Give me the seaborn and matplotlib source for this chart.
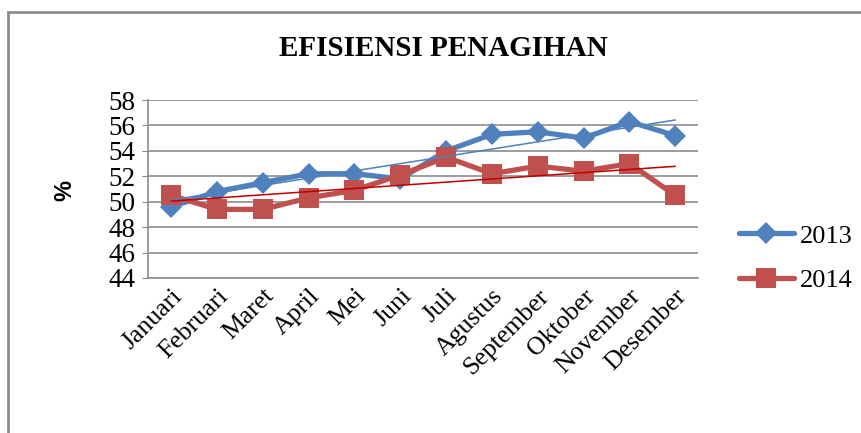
import matplotlib.pyplot as plt
import numpy as np
import pandas as pd
import seaborn as sns
from matplotlib.patches import Rectangle

months = ["Januari", "Februari", "Maret", "April", "Mei", "Juni", "Juli",
          "Agustus", "September", "Oktober", "November", "Desember"]
eff_2013 = [49.6, 50.8, 51.5, 52.2, 52.2, 51.8, 54.0, 55.3, 55.5, 55.0, 56.3, 55.2]
eff_2014 = [50.5, 49.4, 49.4, 50.3, 50.9, 52.1, 53.5, 52.2, 52.8, 52.4, 53.0, 50.5]
years = ["2013", "2014"]

df = pd.DataFrame({
    "idx": list(range(len(months))) * 2,
    "value": eff_2013 + eff_2014,
    "year": [years[0]] * len(months) + [years[1]] * len(months),
})

sns.set_style("white")
plt.rcParams["font.family"] = ["Liberation Serif", "DejaVu Serif"]
plt.rc("text", color="black")
plt.rc("xtick", color="black")
plt.rc("ytick", color="black")

fig = plt.figure(figsize=(8.62, 4.33), dpi=100)
ax = fig.add_axes([0.172, 0.358, 0.638, 0.411])

palette = {"2013": "#4F81BD", "2014": "#C0504D"}
sns.lineplot(data=df, x="idx", y="value", hue="year", style="year",
             markers={"2013": "D", "2014": "s"}, dashes=False,
             palette=palette, linewidth=3.8, markersize=11,
             markeredgewidth=0, legend=False, ax=ax)
# bigger squares for 2014
ax.lines[1].set_markersize(14)

# linear trendlines
x = np.arange(len(months))
sns.regplot(x=x, y=eff_2013, scatter=False, ci=None, truncate=True,
            line_kws={"color": "#4F81BD", "linewidth": 1.1}, ax=ax)
sns.regplot(x=x, y=eff_2014, scatter=False, ci=None, truncate=True,
            line_kws={"color": "#C00000", "linewidth": 1.1}, ax=ax)

ax.set_xlim(-0.5, len(months) - 0.5)
ax.set_ylim(44, 58)
ax.set_yticks(range(44, 59, 2))
ax.set_xticks(x)
ax.set_xticklabels(months, rotation=45, ha="right", rotation_mode="anchor",
                   fontsize=18.5)
ax.tick_params(axis="y", labelsize=19.5, length=4, color="#888888",
               labelcolor="black", left=True, pad=5)
ax.tick_params(axis="x", length=0, pad=5, labelcolor="black")
ax.grid(axis="y", color="#8c8c8c", linewidth=1.2)
ax.set_axisbelow(True)
for side in ["top", "right"]:
    ax.spines[side].set_visible(False)
for side in ["left", "bottom"]:
    ax.spines[side].set_color("#8c8c8c")
    ax.spines[side].set_linewidth(1.2)
ax.set_xlabel("")
ax.set_ylabel("")

fig.text(0.514, 0.888, "EFISIENSI PENAGIHAN", ha="center", va="center",
         fontsize=21, fontweight="bold", color="black")
fig.text(0.075, 0.56, "%", rotation=90, ha="center", va="center",
         fontsize=17, fontweight="bold", family="Liberation Sans",
         color="black")

leg = ax.legend(handles=ax.lines[:2], labels=years, loc="center left",
                bbox_to_anchor=(0.857, 0.404), bbox_transform=fig.transFigure,
                frameon=False, fontsize=19, handlelength=2.1,
                labelspacing=0.8, handletextpad=0.2, borderpad=0,
                borderaxespad=0)
for t in leg.get_texts():
    t.set_color("black")

# outer chart frame
fig.patches.append(Rectangle((0.009, -0.1), 1.2, 1.0 - 12 / 433 + 0.1,
                             transform=fig.transFigure, fill=False,
                             edgecolor="#8c8c8c", linewidth=2))

fig.savefig("out.png", dpi=100)
